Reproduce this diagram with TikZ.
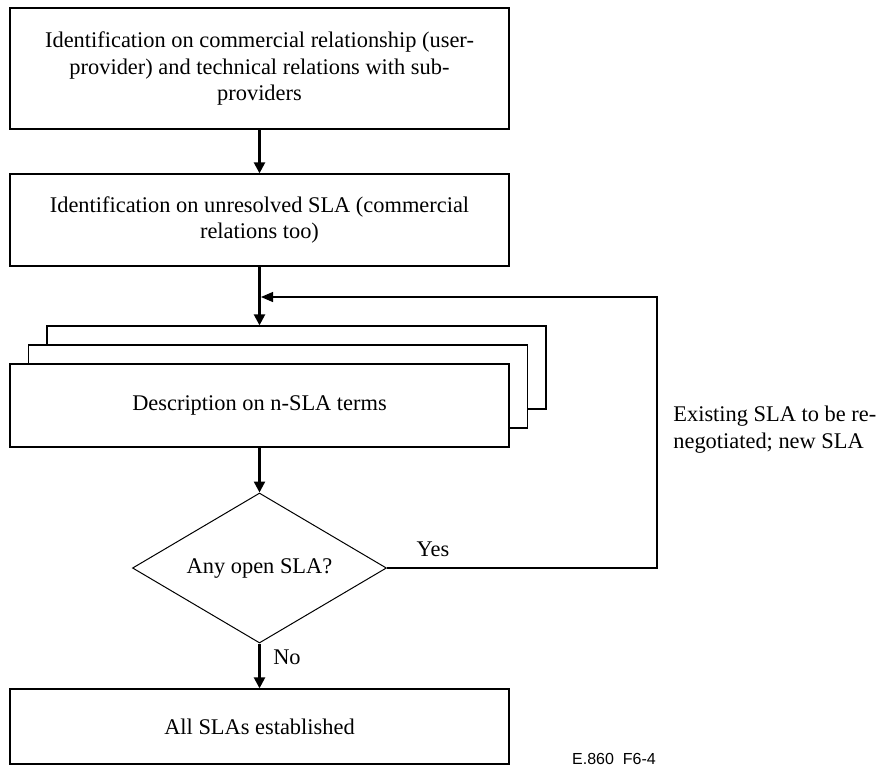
\documentclass[tikz,border=0pt]{standalone}
\usepackage{fontspec}
\setmainfont{Liberation Serif}
\newfontfamily\labelfont{Liberation Sans}
\usetikzlibrary{arrows.meta,positioning,shapes.geometric}

\begin{document}
\begin{tikzpicture}[
  x=0.5pt, y=-0.5pt,
  every node/.style={font=\fontsize{11.2}{13.4}\selectfont, inner sep=0pt},
  stage/.style={draw, line width=0.65pt, fill=white, align=center, minimum width=249.5pt},
  sheet/.style={stage, minimum height=41.5pt},
  test/.style={draw, diamond, line width=0.5pt, aspect=1.7, minimum width=127pt, minimum height=75pt},
  flow/.style={line width=1.2pt, -{Triangle[length=5.5pt, width=5.5pt]}},
  retflow/.style={line width=0.55pt, -{Triangle[length=6pt, width=5pt]}},
]
  \useasboundingbox (0,0) rectangle (885,767);

  \node[stage, minimum height=60.5pt] (ident) at (259.5,68.5)
    {Identification on commercial relationship (user-\\provider) and technical relations with sub-\\providers};
  \node[stage, minimum height=46pt] (unres) at (259.5,220)
    {Identification on unresolved SLA (commercial\\relations too)};

  \node[sheet] (descC) at (296.5,367.5) {};
  \node[sheet] (descB) at (278,386.5) {};
  \node[sheet] (desc) at (259.5,405.5) {Description on n-SLA terms};

  \node[test] (query) at (259.5,568) {Any open SLA?};
  \node[stage, minimum height=37.5pt] (done) at (259.5,726.5) {All SLAs established};

  \coordinate (join) at (261,297);
  \coordinate (turn) at (657,297);

  \draw[flow] (ident) -- (unres);
  \draw[flow] (unres.south) -- (unres.south |- descC.north);
  \draw[flow] (desc) -- (query);
  \draw[flow] (query) -- (done);
  \draw[retflow] (query.east) -| (turn) -- (join);

  \node (yes) at (433,549) {Yes};
  \node (no) at (287,657) {No};
  \node[anchor=west, align=left] (note) at (673,430) {Existing SLA to be re-\\negotiated; new SLA};
  \node[font=\labelfont\fontsize{8}{9.6}\selectfont] (figid) at (614,759) {E.860~~F6-4};
\end{tikzpicture}
\end{document}
